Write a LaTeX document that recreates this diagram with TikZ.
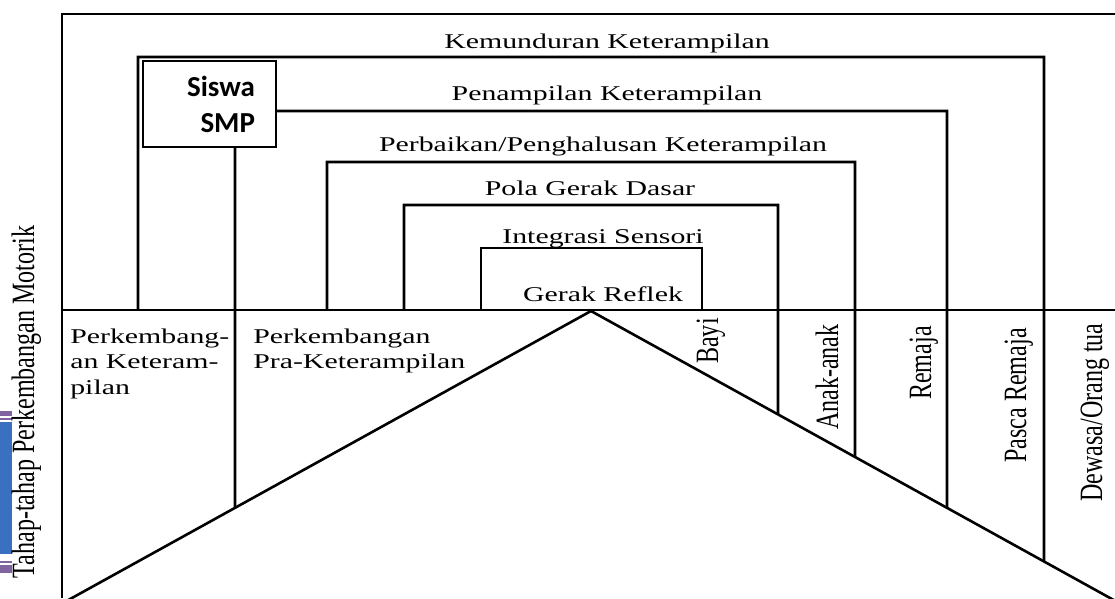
\documentclass[tikz,border=0pt]{standalone}
\usepackage{fontspec}
\setmainfont{Liberation Serif}
\newfontfamily\wideserif[FakeStretch=1.42]{Liberation Serif}
\newfontfamily\tallserif[FakeStretch=0.74]{Liberation Serif}
\newfontfamily\boxsans{Carlito}
\definecolor{tabblue}{RGB}{58,112,192}
\definecolor{tabpurple}{RGB}{128,100,162}

\begin{document}
\begin{tikzpicture}[x=1pt, y=-1pt, line width=2.6pt,
        lbl/.style={font=\wideserif\fontsize{21}{25.5}\selectfont, inner sep=0pt},
        umur/.style={font=\tallserif\fontsize{32.5}{36}\selectfont, rotate=90, anchor=base east, inner sep=0pt},
        sisbox/.style={draw, line width=2.2pt, minimum width=133pt, minimum height=86pt,
            inner xsep=21pt, text width=91pt, align=right,
            font=\boxsans\bfseries\fontsize{29}{36}\selectfont}]
        \useasboundingbox (0,0) rectangle (1115,598);

        % Tanda di tepi kiri
        \fill[tabpurple] (0,411) rectangle (12,416);
        \fill[tabpurple] (0,418) rectangle (12,420);
        \fill[tabblue] (0,422) rectangle (12,554);
        \fill[tabpurple] (0,561) rectangle (12,563);
        \fill[tabpurple] (0,565) rectangle (12,573);

        % Bingkai luar, garis mendatar, segitiga
        \coordinate (puncak) at (591,311);
        \coordinate (kiri) at (62,603.5);
        \coordinate (kanan) at (1120,603.5);
        \draw (62,598) -- (62,14) -- (1115,14);
        \draw (62,310) -- (1115,310);
        \draw (kiri) -- (puncak) -- (kanan);

        % Bingkai bertingkat
        \foreach \xl/\yt/\xr in {138/57/1044, 327/162/855, 404/205/778}
            \draw (\xl,310) -- (\xl,\yt) -- (\xr,\yt)
                -- (intersection of \xr,0--\xr,600 and puncak--kanan);
        \draw (481,310) -- (481,248) -- (702,248) -- (702,310);

        \node[sisbox] (siswa) at (209.5,104) {Siswa\\SMP};
        \draw (siswa.east |- 0,111) -- (947,111)
            -- (intersection of 947,0--947,600 and puncak--kanan);
        \draw (235,0 |- siswa.south) -- (intersection of 235,0--235,600 and puncak--kiri);

        % Nama tahap
        \node[lbl, anchor=base] (tahap1) at (607,48) {Kemunduran Keterampilan};
        \node[lbl, anchor=base] (tahap2) at (607,100) {Penampilan Keterampilan};
        \node[lbl, anchor=base] (tahap3) at (603,151) {Perbaikan/Penghalusan Keterampilan};
        \node[lbl, anchor=base] (tahap4) at (590,195) {Pola Gerak Dasar};
        \node[lbl, anchor=base] (tahap5) at (603,243) {Integrasi Sensori};
        \node[lbl, anchor=base] (tahap6) at (603,301) {Gerak Reflek};

        \node[lbl, anchor=north west, align=left] (ketr) at (69,327.5) {Perkembang-\\an Keteram-\\pilan};
        \node[lbl, anchor=north west, align=left] (prakt) at (252,327.5) {Perkembangan\\Pra-Keterampilan};

        % Kelompok umur
        \node[umur] (bayi) at (718,317) {Bayi};
        \node[umur] (anak) at (838,323) {Anak-anak};
        \node[umur] (remaja) at (931,325) {Remaja};
        \node[umur] (pasca) at (1026,327) {Pasca Remaja};
        \node[umur] (dewasa) at (1102,322) {Dewasa/Orang tua};

        \node[umur, anchor=base] (judul) at (34,402) {Tahap-tahap Perkembangan Motorik};
    \end{tikzpicture}
\end{document}
